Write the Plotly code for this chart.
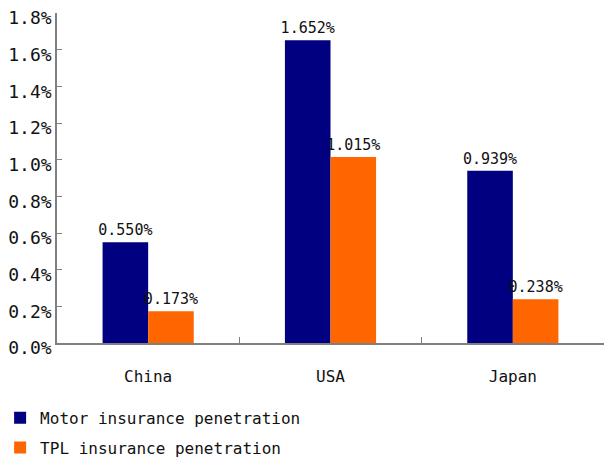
import plotly.graph_objects as go

countries = ["China", "USA", "Japan"]
motor_penetration = [0.550, 1.652, 0.939]   # %
tpl_penetration = [0.173, 1.015, 0.238]     # %
y_ticks = [0.0, 0.2, 0.4, 0.6, 0.8, 1.0, 1.2, 1.4, 1.6, 1.8]

FONT = "DejaVu Sans Mono"

fig = go.Figure()
fig.add_trace(go.Bar(
    name="Motor insurance penetration", legendgroup="motor",
    x=countries, y=motor_penetration,
    marker=dict(color="#000080", line=dict(width=0)),
    text=[f"{v:.3f}%" for v in motor_penetration],
    textposition="outside", cliponaxis=False, constraintext="none",
    textfont=dict(family=FONT, size=15, color="#111111"),
))
fig.add_trace(go.Bar(
    name="TPL insurance penetration", legendgroup="tpl",
    x=countries, y=tpl_penetration,
    marker=dict(color="#FF6600", line=dict(width=0)),
    text=[f"{v:.3f}%" for v in tpl_penetration],
    textposition="outside", cliponaxis=False, constraintext="none",
    textfont=dict(family=FONT, size=15, color="#111111"),
))

fig.update_layout(
    width=606, height=459,
    margin=dict(l=57, r=2, t=13, b=116, autoexpand=False),
    paper_bgcolor="white", plot_bgcolor="white",
    barmode="group", bargap=0.5, bargroupgap=0,
    font=dict(family=FONT, size=16, color="#111111"),
    showlegend=True,
    legend=dict(
        orientation="v", x=-0.104, xanchor="left", y=-0.175, yanchor="top",
        font=dict(family=FONT, size=16, color="#111111"),
        tracegroupgap=6, traceorder="grouped",
        bgcolor="rgba(0,0,0,0)",
    ),
)
fig.update_xaxes(
    showline=True, linecolor="#808080", linewidth=1.5,
    ticks="inside", tickson="boundaries", ticklen=6, tickcolor="#808080",
    showgrid=False, tickfont=dict(family=FONT, size=16),
    ticklabelstandoff=18, automargin=False,
)
fig.update_yaxes(
    range=[0, 1.8], tickvals=y_ticks,
    ticktext=[f"{v:.1f}%" for v in y_ticks],
    showline=True, linecolor="#808080", linewidth=1.5,
    ticks="inside", ticklen=5, tickcolor="#808080",
    showgrid=False, zeroline=False,
    tickfont=dict(family=FONT, size=18),
    ticklabelshift=5, ticklabeloverflow="allow", automargin=False,
)

fig.write_html("out.html")
